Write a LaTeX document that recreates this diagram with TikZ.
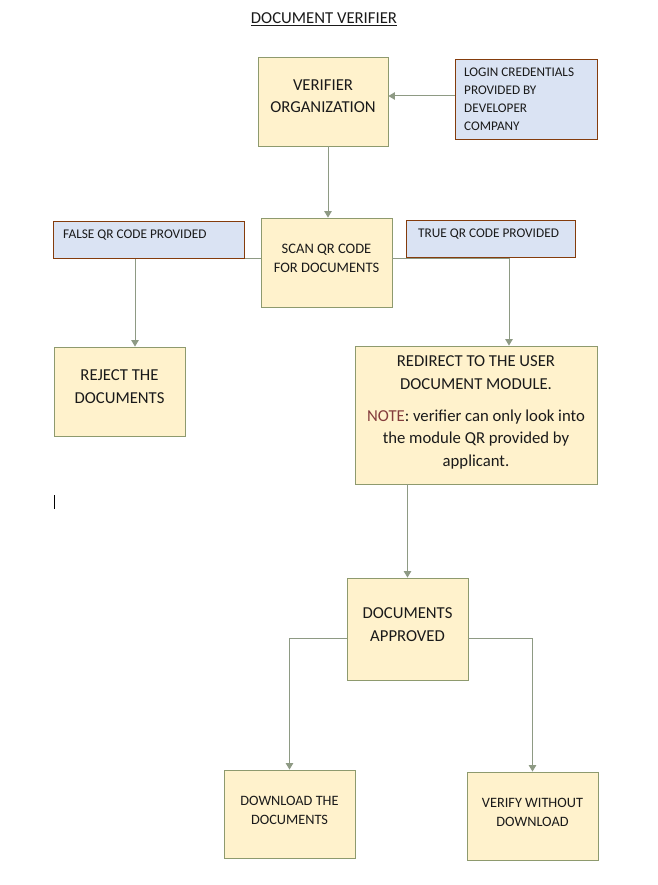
\documentclass[tikz,border=0pt]{standalone}
\usepackage{fontspec}
\setmainfont{Carlito}
\usetikzlibrary{arrows.meta}
\definecolor{boxfill}{HTML}{FFF2CC}
\definecolor{boxline}{HTML}{8E9A6E}
\definecolor{tagfill}{HTML}{DAE3F3}
\definecolor{tagline}{HTML}{843C0C}
\definecolor{connline}{HTML}{8E9A84}
\definecolor{ink}{HTML}{1A1A1A}
\definecolor{notered}{HTML}{843C3C}
\tikzset{
  ybox/.style={draw=boxline, fill=boxfill, line width=0.9pt, inner sep=0pt},
  tagbox/.style={draw=tagline, fill=tagfill, line width=0.9pt, inner sep=0pt},
  bigtxt/.style={text=ink, align=center, inner sep=0pt, font=\fontsize{16.7}{22.5}\selectfont},
  midtxt/.style={text=ink, align=center, inner sep=0pt, font=\fontsize{14.3}{19}\selectfont},
  smalltxt/.style={text=ink, align=left, inner sep=0pt, font=\fontsize{13.2}{18}\selectfont},
  conn/.style={draw=connline, line width=1pt, -{Triangle[length=6.5pt,width=7.5pt]}},
}
\begin{document}
\begin{tikzpicture}[x=1pt, y=-1pt]
\useasboundingbox[fill=white] (0,0) rectangle (657,885);

% title
\node[bigtxt, anchor=base] (title) at (324,24) {\underline{DOCUMENT VERIFIER}};

% boxes
\node[ybox, minimum width=130, minimum height=89] (org) at (323,101.5) {};
\node[tagbox, minimum width=142, minimum height=80] (login) at (526,99) {};
\node[ybox, minimum width=131, minimum height=89] (scan) at (326.5,262.5) {};
\node[ybox, minimum width=131, minimum height=89] (reject) at (119.5,391.5) {};
\node[ybox, minimum width=242, minimum height=138] (redirect) at (476,415) {};
\node[ybox, minimum width=121, minimum height=102] (approved) at (407.5,629) {};
\node[ybox, minimum width=131, minimum height=88] (download) at (289.5,814) {};
\node[ybox, minimum width=131, minimum height=88] (verify) at (532.5,816) {};

% connectors
\draw[conn] ([yshift=3pt]login.west) -- ([yshift=3pt]login.west -| org.east);
\draw[conn] ([xshift=5pt]org.south) -- ([xshift=5pt]org.south |- scan.north);
\draw[conn] ([yshift=4.5pt]scan.west) -| ([xshift=15.5pt]reject.north);
\draw[conn] ([yshift=4.5pt]scan.east) -| ([xshift=33pt]redirect.north);
\draw[conn] (redirect.south -| approved.north) -- (approved.north);
\draw[conn] ([yshift=-9pt]approved.west) -| (download.north);
\draw[conn] ([yshift=-9pt]approved.east) -| (verify.north);

% condition tags over the branch lines
\node[tagbox, minimum width=191, minimum height=37] (falsetag) at (148.5,239.5) {};
\node[tagbox, minimum width=169, minimum height=37] (truetag) at (490.5,238.5) {};

% texts
\node[bigtxt] (orgtxt) at (323,96) {VERIFIER\\ORGANIZATION};
\node[smalltxt, anchor=west] (logintxt) at (464,99.5) {LOGIN CREDENTIALS\\PROVIDED BY\\DEVELOPER\\COMPANY};
\node[midtxt, font=\fontsize{14.5}{19}\selectfont] (scantxt) at (326.5,258.5) {SCAN QR CODE\\FOR DOCUMENTS};
\node[smalltxt, anchor=west, font=\fontsize{13.3}{16}\selectfont] (falsetxt) at (63,235.5) {FALSE QR CODE PROVIDED};
\node[smalltxt, anchor=west, font=\fontsize{13.3}{16}\selectfont] (truetxt) at (418,234.5) {TRUE QR CODE PROVIDED};
\node[bigtxt] (rejecttxt) at (119.5,386.5) {REJECT THE\\DOCUMENTS};
\node[bigtxt] (redirtxt) at (476,372.5) {REDIRECT TO THE USER\\DOCUMENT MODULE.};
\node[bigtxt] (notetxt) at (476,439.5) {\textcolor{notered}{NOTE}: verifier can only look into\\the module QR provided by\\applicant.};
\node[bigtxt] (approvedtxt) at (407.5,624.5) {DOCUMENTS\\APPROVED};
\node[midtxt] (downloadtxt) at (289.5,810) {DOWNLOAD THE\\DOCUMENTS};
\node[midtxt] (verifytxt) at (532.5,812) {VERIFY WITHOUT\\DOWNLOAD};

% text cursor mark
\draw[black, line width=0.8pt] (54,495) -- (54,509);
\end{tikzpicture}
\end{document}
